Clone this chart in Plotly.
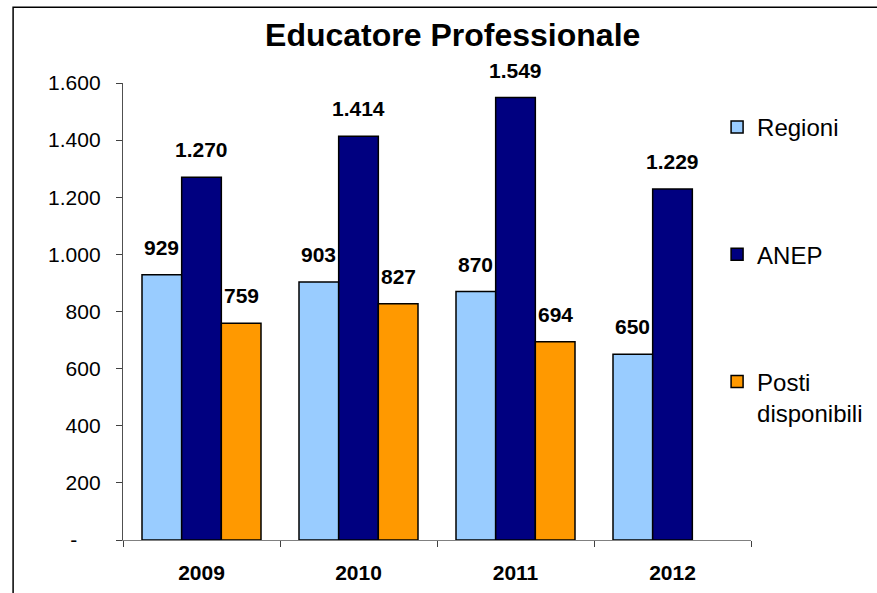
import plotly.graph_objects as go

years = ["2009", "2010", "2011", "2012"]
regioni = [929, 903, 870, 650]
anep = [1270, 1414, 1549, 1229]
posti = [759, 827, 694, None]
series_names = ["Regioni", "ANEP", "Posti<br>disponibili"]
series_colors = ["#99CCFF", "#000080", "#FF9900"]
ytick_vals = [0, 200, 400, 600, 800, 1000, 1200, 1400, 1600]
ytick_text = ["-\u00a0\u00a0\u00a0\u00a0", "200", "400", "600", "800", "1.000", "1.200", "1.400", "1.600"]
title_text = "Educatore Professionale"

FONT = "Liberation Sans, Arial, sans-serif"
series = [regioni, anep, posti]

fig = go.Figure()
for i, (name, vals, col) in enumerate(zip(series_names, series, series_colors)):
    fig.add_trace(go.Bar(
        x=years, y=vals, name=name, legendgroup=f"g{i}",
        marker=dict(color=col, line=dict(color="#000000", width=1.5)),
        hoverinfo="skip",
    ))

# data labels above bars (x given as category index)
bar_px = 157 * (1 - 0.242) / 3
annotations = []
for i, vals in enumerate(series):
    for j, v in enumerate(vals):
        if v is None:
            continue
        annotations.append(dict(
            x=j, y=v, xref="x", yref="y", showarrow=False,
            text="<b>" + f"{v:,}".replace(",", ".") + "</b>",
            font=dict(family=FONT, size=21, color="#000000"),
            xanchor="center", yanchor="bottom",
            xshift=(i - 1) * bar_px, yshift=14,
        ))

fig.update_layout(
    width=877, height=593,
    margin=dict(l=123, r=126, t=83, b=53, autoexpand=False),
    paper_bgcolor="white", plot_bgcolor="white",
    barmode="group", bargap=0.242, bargroupgap=0,
    title=dict(text="<b>" + title_text + "</b>", x=0.525, xref="paper", xanchor="center",
               y=1 - 35 / 593, yref="container", yanchor="middle",
               font=dict(family=FONT, size=32, color="#000000")),
    font=dict(family=FONT, color="#000000"),
    legend=dict(x=0.946, xanchor="left", y=0.952, yanchor="top",
                font=dict(family=FONT, size=24, color="#000000"),
                tracegroupgap=93, valign="top", bgcolor="rgba(0,0,0,0)"),
    annotations=annotations,
    showlegend=True,
)
fig.update_xaxes(
    type="category", range=[-0.5, 3.5], autorange=False, automargin=False,
    showgrid=False, showline=True, linecolor="#808080", linewidth=1.3,
    ticks="outside", tickson="boundaries", ticklen=6, tickcolor="#404040", tickwidth=1.3,
    tickfont=dict(family=FONT, size=21, color="#000000"), ticklabelstandoff=14, tickangle=0,
    tickprefix="<b>", ticksuffix="</b>", zeroline=False,
)
fig.update_yaxes(
    range=[0, 1600], autorange=False, automargin=False,
    showgrid=False, showline=True, linecolor="#505050", linewidth=1.3,
    ticks="outside", ticklen=6, tickcolor="#404040", tickwidth=1.3,
    tickvals=ytick_vals, ticktext=ytick_text,
    tickfont=dict(family=FONT, size=21, color="#000000"), ticklabelstandoff=11,
    zeroline=False,
)
# chart-area border (left and top edges visible)
fig.add_shape(type="path", xref="paper", yref="paper",
              path="M -0.175 -0.3 L -0.175 1.166 L 1.4 1.166",
              line=dict(color="#000000", width=1.5), layer="above")

fig.write_html("out.html", config={"displayModeBar": False},
               post_script="document.body.style.margin='0';")
